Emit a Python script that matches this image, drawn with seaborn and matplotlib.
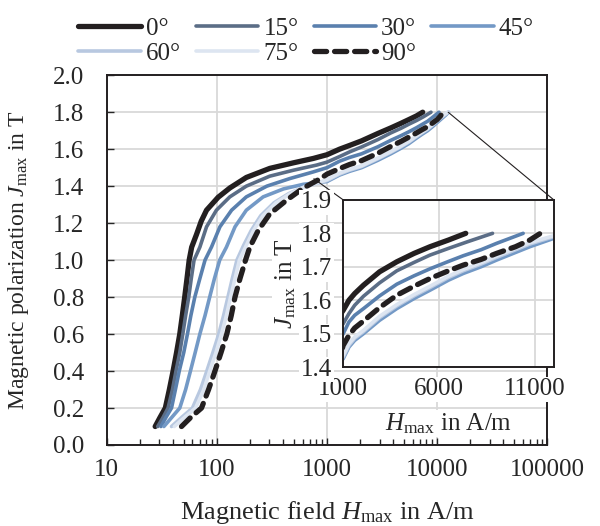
import matplotlib
matplotlib.use("Agg")
import matplotlib.pyplot as plt
import seaborn as sns
from matplotlib.patches import ConnectionPatch

# curve data (H in A/m, J in T)
angles = ["0°", "15°", "30°", "45°", "60°", "75°", "90°"]

h_0 = [27.5, 30.5, 34, 37, 40, 43, 46, 48.5, 51, 53.5, 56, 59, 65.4, 72, 80.5, 102.7, 131, 185, 302, 494, 752,
       1000, 1300, 1600, 2060, 2900, 3800, 4700, 5535, 6500, 7400]
j_0 = [0.10, 0.15, 0.20, 0.30, 0.40, 0.50, 0.60, 0.70, 0.80, 0.90, 1.00, 1.07, 1.14, 1.21, 1.27, 1.34, 1.39, 1.447, 1.496, 1.526, 1.55,
       1.57, 1.60, 1.62, 1.645, 1.685, 1.715, 1.74, 1.76, 1.78, 1.80]

h_15 = [29, 32.5, 36, 39.5, 42.5, 46, 49, 52, 55.5, 58.5, 62, 70, 80.5, 99, 131, 185, 302, 494, 805,
        1000, 1300, 1600, 2060, 2900, 3800, 4700, 5535, 6500, 7500, 8800]
j_15 = [0.10, 0.15, 0.20, 0.30, 0.40, 0.50, 0.60, 0.70, 0.80, 0.90, 1.00, 1.07, 1.18, 1.27, 1.342, 1.40, 1.454, 1.486, 1.514,
        1.53, 1.56, 1.585, 1.612, 1.652, 1.688, 1.713, 1.735, 1.755, 1.775, 1.80]

h_30 = [31, 34.5, 38.7, 42, 45.5, 50, 54, 58, 63, 70, 78, 89.5, 106.5, 136, 185, 284, 459, 750,
        1000, 1300, 1600, 2060, 2900, 3800, 4700, 5535, 6500, 7270, 8200, 9010, 10400]
j_30 = [0.10, 0.15, 0.20, 0.30, 0.40, 0.50, 0.60, 0.70, 0.80, 0.90, 1.00, 1.072, 1.18, 1.27, 1.342, 1.40, 1.441, 1.477,
        1.50, 1.535, 1.555, 1.575, 1.613, 1.648, 1.673, 1.694, 1.716, 1.733, 1.751, 1.77, 1.80]

h_45 = [33, 39, 46, 52, 57.5, 63.5, 70, 78, 86, 95, 106, 122, 146, 185, 263, 402, 610,
        1000, 1300, 1600, 2060, 2900, 3800, 4700, 5535, 6500, 7270, 8200, 9010, 10750, 12000, 12700]
j_45 = [0.10, 0.15, 0.20, 0.30, 0.40, 0.50, 0.60, 0.70, 0.80, 0.90, 1.00, 1.07, 1.18, 1.27, 1.342, 1.385, 1.41,
        1.425, 1.46, 1.48, 1.50, 1.54, 1.575, 1.605, 1.63, 1.66, 1.68, 1.70, 1.72, 1.76, 1.785, 1.80]

h_60 = [38.7, 48, 60, 71, 81, 92, 104, 115, 126, 138, 152, 175, 205, 250, 330, 450, 620, 860,
        1000, 1300, 1600, 2060, 2900, 3800, 4700, 5535, 6500, 7270, 8200, 9010, 10750, 12000, 12600]
j_60 = [0.10, 0.15, 0.20, 0.30, 0.40, 0.50, 0.60, 0.70, 0.80, 0.90, 1.00, 1.08, 1.16, 1.24, 1.31, 1.36, 1.395, 1.42,
        1.43, 1.465, 1.486, 1.506, 1.548, 1.583, 1.613, 1.638, 1.668, 1.688, 1.708, 1.728, 1.768, 1.79, 1.80]

h_75 = [41, 51, 64, 76, 86, 98, 110, 122, 133, 146, 160, 185, 215, 262, 345, 465, 635, 870,
        1000, 1300, 1600, 2060, 2900, 3800, 4700, 5535, 6500, 7270, 8200, 9010, 10750, 12000, 12500]
j_75 = [0.10, 0.15, 0.20, 0.30, 0.40, 0.50, 0.60, 0.70, 0.80, 0.90, 1.00, 1.08, 1.16, 1.24, 1.31, 1.36, 1.398, 1.423,
        1.435, 1.47, 1.49, 1.51, 1.552, 1.587, 1.617, 1.642, 1.672, 1.692, 1.712, 1.732, 1.772, 1.793, 1.80]

h_90 = [47.7, 58, 72.5, 84, 96, 109, 123, 135, 146, 162, 182, 199, 237, 302, 429, 610, 867,
        1000, 1300, 1600, 2060, 2900, 3800, 4700, 5535, 6500, 7270, 8200, 9010, 10000, 10750, 11300]
j_90 = [0.10, 0.15, 0.20, 0.30, 0.40, 0.50, 0.60, 0.70, 0.80, 0.90, 1.00, 1.07, 1.16, 1.25, 1.324, 1.39, 1.44,
        1.465, 1.495, 1.517, 1.538, 1.578, 1.615, 1.642, 1.665, 1.688, 1.705, 1.722, 1.74, 1.76, 1.78, 1.80]

xs = [h_0, h_15, h_30, h_45, h_60, h_75, h_90]
ys = [j_0, j_15, j_30, j_45, j_60, j_75, j_90]

colors = ["#231f20", "#5b6d86", "#5a80ae", "#7399c6", "#b8c8e0", "#dde5f1", "#231f20"]
widths = [3.8, 2.6, 2.6, 2.6, 2.6, 2.6, 3.8]

sns.set_style("white")
plt.rcParams["font.family"] = ["Liberation Serif", "DejaVu Serif"]
plt.rcParams["mathtext.fontset"] = "custom"
plt.rcParams["mathtext.rm"] = "Liberation Serif"
plt.rcParams["mathtext.it"] = "Liberation Serif:italic"
FS = 18

fig = plt.figure(figsize=(6, 5.26), dpi=100)
ax = fig.add_axes([0.178, 0.154, 0.734, 0.703])
ax_in = fig.add_axes([0.572, 0.302, 0.351, 0.318])
ax_in.set_zorder(5)


def draw(a):
    lines = []
    for k, lab in enumerate(angles):
        kw = dict(color=colors[k], lw=widths[k])
        if lab == "90°":
            kw.update(linestyle=(0, (2.3, 1.5)), dash_capstyle="round")
        sns.lineplot(x=xs[k], y=ys[k], ax=a, sort=False, estimator=None, label=lab, **kw)
        lines.append(a.lines[-1])
    if a.get_legend() is not None:
        a.get_legend().remove()
    return lines


handles = draw(ax)
draw(ax_in)

grid_c = "#d9d9d9"

# main axes
ax.set_xscale("log")
ax.set_xlim(10, 100000)
ax.set_ylim(0, 2.0)
ax.set_yticks([0.0, 0.2, 0.4, 0.6, 0.8, 1.0, 1.2, 1.4, 1.6, 1.8, 2.0])
ax.set_yticklabels([f"{v:.1f}" for v in ax.get_yticks()])
ax.set_xticks([10, 100, 1000, 10000, 100000])
ax.set_xticklabels(["10", "100", "1000", "10000", "100000"])
ax.grid(True, which="major", color=grid_c, lw=1.3)
ax.tick_params(axis="both", which="major", direction="in", length=5, width=1, labelsize=FS,
               left=True, bottom=True)
ax.tick_params(axis="x", which="major", pad=10)
ax.tick_params(axis="y", which="major", pad=16)
ax.tick_params(axis="x", which="minor", direction="in", length=4, width=1, bottom=True)
for s in ax.spines.values():
    s.set_color("#231f20")
    s.set_linewidth(1.4)
ax.set_xlabel("Magnetic field $H_{\\mathrm{max}}$ in A/m", fontsize=FS + 1, labelpad=13)
ax.set_ylabel("Magnetic polarization $J_{\\mathrm{max}}$ in T", fontsize=FS - 1, labelpad=16)

# inset
ax_in.set_facecolor("white")
ax_in.set_xlim(1000, 12000)
ax_in.set_ylim(1.4, 1.9)
ax_in.set_xticks([1000, 6000, 11000])
ax_in.set_yticks([1.4, 1.5, 1.6, 1.7, 1.8, 1.9])
ax_in.set_yticklabels([f"{v:.1f}" for v in ax_in.get_yticks()])
ax_in.grid(True, color=grid_c, lw=1.3)
ax_in.tick_params(length=0, labelsize=FS, pad=8)
for s in ax_in.spines.values():
    s.set_color("#231f20")
    s.set_linewidth(1.4)
for lbl in ax_in.get_xticklabels() + ax_in.get_yticklabels():
    lbl.set_bbox(dict(facecolor="white", edgecolor="none", pad=1))
ax_in.set_xlabel("$H_{\\mathrm{max}}$ in A/m", fontsize=FS, labelpad=8,
                 bbox=dict(facecolor="white", edgecolor="none", pad=1))
ax_in.set_ylabel("$J_{\\mathrm{max}}$ in T", fontsize=FS, labelpad=2,
                 bbox=dict(facecolor="white", edgecolor="none", pad=1))

# zoom connectors
for xy_main, xy_in in [((12600, 1.8), (1, 1)), ((760, 1.44), (0, 1))]:
    con = ConnectionPatch(xyA=xy_main, coordsA=ax.transData, xyB=xy_in, coordsB=ax_in.transAxes,
                          color="#231f20", lw=0.8)
    fig.add_artist(con)

order = [0, 4, 1, 5, 2, 6, 3]
fig.legend([handles[i] for i in order], [angles[i] for i in order], loc="upper center",
           bbox_to_anchor=(0.51, 1.01), ncol=4, frameon=False, fontsize=FS,
           handlelength=2.5, handletextpad=0.2, columnspacing=0.6, labelspacing=0.1)

fig.savefig("out.png", dpi=100)
